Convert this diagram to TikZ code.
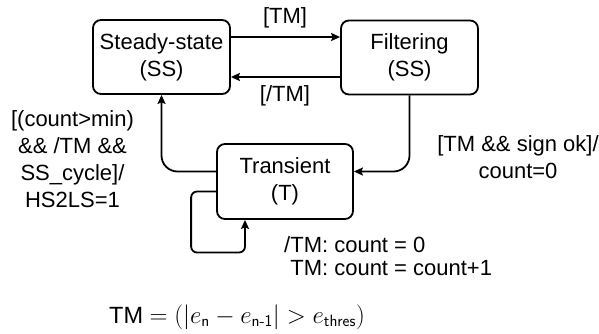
\documentclass[tikz,border=0pt]{standalone}
\usepackage{fontspec}
\setmainfont{Liberation Sans}
\usepackage{amsmath}
\usepackage{tikz}
\usetikzlibrary{arrows.meta, positioning}

\begin{document}
\begin{tikzpicture}[
    x=1pt, y=-1pt,
    % state boxes of the machine
    state/.style={
        rectangle,
        draw,
        line width=1.8pt,
        rounded corners=8pt,
        minimum width=137pt,
        minimum height=74pt,
        align=center,
        font=\fontsize{22}{27}\selectfont
    },
    guard/.style={inner sep=0pt, align=center, font=\fontsize{22}{27}\selectfont},
    line/.style={draw, line width=1.8pt, -{Stealth[length=9pt,width=8pt,inset=1.5pt]}}
]
    \useasboundingbox (0,0) rectangle (599,333);

    % States
    \node [state] (steady) at (161.5,57) {Steady-state\\(SS)};
    \node [state] (filter) at (409.5,57.5) {Filtering\\(SS)};
    \node [state, minimum width=136pt, minimum height=75pt] (trans) at (285,181.5) {Transient\\(T)};

    % Transitions
    \path [line] ([yshift=20pt]steady.east) -- ([yshift=20pt]filter.west |- steady.east);
    \path [line] ([yshift=-20pt]filter.west |- steady.east) -- ([yshift=-20pt]steady.east);
    \path [line, rounded corners=16pt] (filter.south) |- ([yshift=10pt]trans.east);
    \path [line, rounded corners=16pt] ([yshift=10pt]trans.west) -| (steady.south);
    \path [line, rounded corners=6pt] ([yshift=-10pt]trans.west) -- ++(-25,0) -- ++(0,61) -| ([xshift=-40pt]trans.south);

    % Guards and actions
    \node [guard] (tm) at (285,18) {[TM]};
    \node [guard] (notm) at (285,96) {[/TM]};
    \node [guard] (toss) at (72.5,159) {[(count>min)\\\&\& /TM \&\&\\SS\_cycle]/\\HS2LS=1};
    \node [guard] (totr) at (518,157.5) {[TM \&\& sign ok]/\\count=0};
    \node [guard, anchor=west, align=left, font=\fontsize{22}{23}\selectfont] (loop) at (284,256)
        {/TM: count = 0\\\hphantom{/}TM: count = count+1};

    % Definition of TM
    \node [guard, font=\fontsize{23.5}{27}\selectfont] (def) at (237,317)
        {TM $= (|e_{\textsf{n}} - e_{\textsf{n-1}}| > e_{\textsf{thres}})$};
\end{tikzpicture}
\end{document}
